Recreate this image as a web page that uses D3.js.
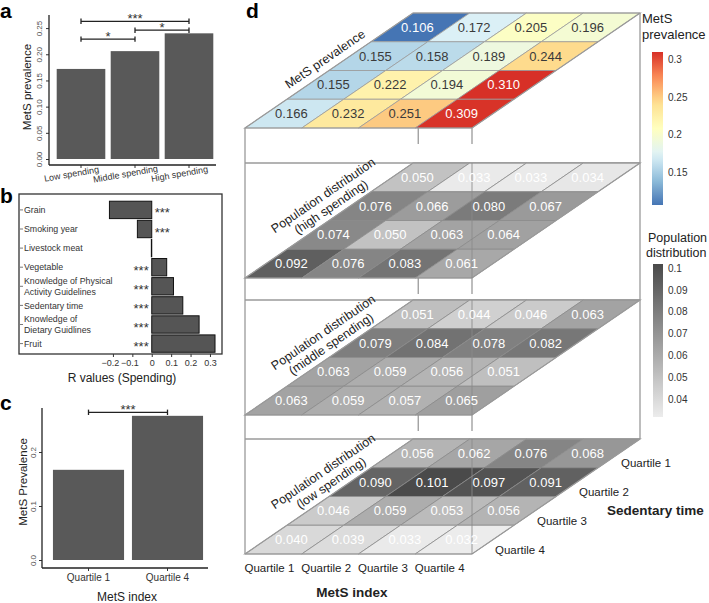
<!DOCTYPE html>
<html><head><meta charset="utf-8">
<script src="https://cdn.jsdelivr.net/npm/d3@7"></script>
<style>body{margin:0;background:#fff} text{font-family:"Liberation Sans",Arial,Helvetica,sans-serif}</style>
</head><body><svg id="c" width="709" height="603"></svg>
<script>
// ---------- DATA ----------
const spendingGroups = ["Low spending", "Middle spending", "High spending"];
const spendingPrevalence = [0.172, 0.206, 0.240];
const spendingSigPairs = [[0, 2], [0, 1], [1, 2]];
const spendingSigLabels = ["***", "*", "*"];
const spendingSigLevels = [0.263, 0.229, 0.246];

const factorNames = ["Grain", "Smoking year", "Livestock meat", "Vegetable",
  "Knowledge of Physical Activity Guidelines", "Sedentary time",
  "Knowledge of Dietary Guidlines", "Fruit"];
const factorLines = [["Grain"], ["Smoking year"], ["Livestock meat"], ["Vegetable"],
  ["Knowledge of Physical", "Activity Guidelines"], ["Sedentary time"],
  ["Knowledge of", "Dietary Guidlines"], ["Fruit"]];
const factorR = [-0.218, -0.074, -0.002, 0.077, 0.112, 0.160, 0.244, 0.326];
const factorSig = ["***", "***", "", "***", "***", "***", "***", "***"];
const factorTicks = [-0.2, -0.1, 0, 0.1, 0.2, 0.3];

const metsGroups = ["Quartile 1", "Quartile 4"];
const metsPrevalence = [0.167, 0.267];
const metsSigLabel = "***";
const metsSigLevel = 0.2735;

const quartiles = ["Quartile 1", "Quartile 2", "Quartile 3", "Quartile 4"];
// rows = sedentary time quartile 1..4, columns = MetS index quartile 1..4
const prevGrid = [
  [0.106, 0.172, 0.205, 0.196],
  [0.155, 0.158, 0.189, 0.244],
  [0.155, 0.222, 0.194, 0.310],
  [0.166, 0.232, 0.251, 0.309]];
const highGrid = [
  [0.050, 0.033, 0.033, 0.034],
  [0.076, 0.066, 0.080, 0.067],
  [0.074, 0.050, 0.063, 0.064],
  [0.092, 0.076, 0.083, 0.061]];
const midGrid = [
  [0.051, 0.044, 0.046, 0.063],
  [0.079, 0.084, 0.078, 0.082],
  [0.063, 0.059, 0.056, 0.051],
  [0.063, 0.059, 0.057, 0.065]];
const lowGrid = [
  [0.056, 0.062, 0.076, 0.068],
  [0.090, 0.101, 0.097, 0.091],
  [0.046, 0.059, 0.053, 0.056],
  [0.040, 0.039, 0.033, 0.032]];
const layerTitles = [["MetS prevalence"], ["Population distribution", "(high spending)"],
  ["Population distribution", "(middle spending)"], ["Population distribution", "(low spending)"]];
const prevLegendTicks = [0.15, 0.2, 0.25, 0.3];
const popLegendTicks = [0.04, 0.05, 0.06, 0.07, 0.08, 0.09, 0.1];

// ---------- DRAW ----------
const svg = d3.select("#c");
const ink = "#222";

function panelLetter(t, x, y) {
  svg.append("text").attr("x", x).attr("y", y).attr("font-size", 21).attr("font-weight", "bold").attr("fill", "#000").text(t);
}
function bracket(g, x1, x2, y, label) {
  g.append("line").attr("x1", x1).attr("x2", x2).attr("y1", y).attr("y2", y).attr("stroke", ink).attr("stroke-width", 1.3);
  [x1, x2].forEach(x => g.append("line").attr("x1", x).attr("x2", x).attr("y1", y - 2.7).attr("y2", y + 2.7).attr("stroke", ink).attr("stroke-width", 1.3));
  g.append("text").attr("x", (x1 + x2) / 2).attr("y", y + 2).attr("text-anchor", "middle").attr("font-size", 13).attr("fill", "#333").text(label);
}

// ===== Panel a =====
panelLetter("a", 0, 18);
const ga = svg.append("g");
const yA = d3.scaleLinear().domain([0, 0.275]).range([159, 15]);
const xA = d3.scaleBand().domain(spendingGroups).range([54, 216]).paddingInner(0.1).paddingOuter(0.05);
ga.selectAll("rect.bar").data(spendingGroups).join("rect")
  .attr("x", d => xA(d)).attr("width", xA.bandwidth())
  .attr("y", (d, i) => yA(spendingPrevalence[i])).attr("height", (d, i) => yA(0) - yA(spendingPrevalence[i]))
  .attr("fill", "#595959");
const axA = ga.append("g").attr("transform", "translate(49,0)").call(d3.axisLeft(yA).tickValues([0, 0.05, 0.1, 0.15, 0.2, 0.25]).tickFormat(d3.format(".2f")).tickSize(3).tickSizeOuter(0));
axA.select(".domain").remove();
axA.selectAll(".tick line").attr("stroke", "#333");
axA.selectAll(".tick text").attr("font-size", 8).attr("fill", "#4d4d4d").attr("text-anchor", "middle")
  .attr("x", 0).attr("dy", 0).attr("transform", "translate(-7,0) rotate(-90)");
ga.append("line").attr("x1", 49).attr("x2", 49).attr("y1", 15).attr("y2", 165).attr("stroke", ink).attr("stroke-width", 1.3);
const axAx = ga.append("g").attr("transform", "translate(0,165)").call(d3.axisBottom(xA).tickSize(3).tickSizeOuter(0));
axAx.select(".domain").remove();
ga.append("line").attr("x1", 49).attr("x2", 216).attr("y1", 165).attr("y2", 165).attr("stroke", ink).attr("stroke-width", 1.3);
axAx.selectAll(".tick line").attr("stroke", "#333");
axAx.selectAll(".tick text").attr("font-size", 9).attr("fill", "#333").attr("text-anchor", "middle")
  .attr("y", 0).attr("dy", 0).attr("transform", "translate(-9,12) rotate(-10)");
ga.append("text").attr("transform", "translate(31,87) rotate(-90)").attr("text-anchor", "middle")
  .attr("font-size", 11.5).attr("fill", "#222").text("MetS prevalence");
spendingSigPairs.forEach((p, i) => {
  bracket(ga, xA(spendingGroups[p[0]]) + xA.bandwidth() / 2, xA(spendingGroups[p[1]]) + xA.bandwidth() / 2, yA(spendingSigLevels[i]), spendingSigLabels[i]);
});

// ===== Panel b =====
panelLetter("b", 0, 203);
const gb = svg.append("g");
const xB = d3.scaleLinear().domain([-0.684, 0.362]).range([19, 222]);
const yB = d3.scaleBand().domain(factorNames).range([199.5, 354]).padding(0.09);
gb.selectAll("rect.bar").data(factorNames).join("rect")
  .attr("x", (d, i) => xB(Math.min(0, factorR[i]))).attr("width", (d, i) => Math.abs(xB(factorR[i]) - xB(0)))
  .attr("y", d => yB(d)).attr("height", yB.bandwidth())
  .attr("fill", "#555").attr("stroke", "#111").attr("stroke-width", 1);
gb.append("rect").attr("x", 19).attr("y", 194).attr("width", 203).attr("height", 160)
  .attr("fill", "none").attr("stroke", "#333").attr("stroke-width", 1.3);
factorNames.forEach((n, i) => {
  const cy = yB(n) + yB.bandwidth() / 2;
  const lines = factorLines[i];
  gb.append("line").attr("x1", 20).attr("x2", 23).attr("y1", cy).attr("y2", cy).attr("stroke", "#555").attr("stroke-width", 0.8);
  lines.forEach((l, j) => {
    gb.append("text").attr("x", 24).attr("y", cy + 3.2 + (j - (lines.length - 1) / 2) * 11)
      .attr("font-size", 8.8).attr("fill", "#333").text(l);
  });
  if (factorSig[i]) {
    const neg = factorR[i] < 0;
    gb.append("text").attr("x", neg ? xB(0) + 3 : xB(0) - 3).attr("y", cy + 7.5)
      .attr("text-anchor", neg ? "start" : "end").attr("font-size", 13).attr("fill", "#333").text(factorSig[i]);
  }
});
const axB = gb.append("g").attr("transform", "translate(0,354)").call(d3.axisBottom(xB).tickValues(factorTicks).tickFormat(d => d === 0 ? "0" : d3.format(".1f")(d)).tickSize(3));
axB.select(".domain").remove();
axB.selectAll(".tick line").attr("stroke", "#333");
axB.selectAll(".tick text").attr("font-size", 9).attr("fill", "#333").attr("y", 6).attr("dy", "0.71em")
  .attr("dx", d => d < 0 ? -3 : 0);
gb.append("text").attr("x", 122).attr("y", 382).attr("text-anchor", "middle").attr("font-size", 12).attr("fill", "#222").text("R values (Spending)");

// ===== Panel c =====
panelLetter("c", 0, 410);
const gc = svg.append("g");
const yC = d3.scaleLinear().domain([0, 0.2815]).range([560, 408]);
const xC = d3.scaleBand().domain(metsGroups).range([49, 207]).paddingInner(0.1).paddingOuter(0.05);
gc.selectAll("rect.bar").data(metsGroups).join("rect")
  .attr("x", d => xC(d)).attr("width", xC.bandwidth())
  .attr("y", (d, i) => yC(metsPrevalence[i])).attr("height", (d, i) => yC(0) - yC(metsPrevalence[i]))
  .attr("fill", "#595959");
const axC = gc.append("g").attr("transform", "translate(42,0)").call(d3.axisLeft(yC).tickValues([0, 0.1, 0.2]).tickFormat(d3.format(".1f")).tickSize(3));
axC.select(".domain").remove();
axC.selectAll(".tick line").attr("stroke", "#333");
axC.selectAll(".tick text").attr("font-size", 8).attr("fill", "#4d4d4d").attr("text-anchor", "middle")
  .attr("x", 0).attr("dy", 0).attr("transform", "translate(-6,0) rotate(-90)");
gc.append("line").attr("x1", 42).attr("x2", 42).attr("y1", 408).attr("y2", 568).attr("stroke", ink).attr("stroke-width", 1.3);
gc.append("line").attr("x1", 42).attr("x2", 208).attr("y1", 568).attr("y2", 568).attr("stroke", ink).attr("stroke-width", 1.3);
const axCx = gc.append("g").attr("transform", "translate(0,568)").call(d3.axisBottom(xC).tickSize(3).tickSizeOuter(0));
axCx.select(".domain").remove();
axCx.selectAll(".tick line").attr("stroke", "#333");
axCx.selectAll(".tick text").attr("font-size", 10).attr("fill", "#333").attr("y", 6).attr("dy", "0.71em");
gc.append("text").attr("transform", "translate(27,482) rotate(-90)").attr("text-anchor", "middle")
  .attr("font-size", 11.5).attr("fill", "#222").text("MetS Prevalence");
gc.append("text").attr("x", 127).attr("y", 601).attr("text-anchor", "middle").attr("font-size", 12).attr("fill", "#222").text("MetS index");
bracket(gc, xC(metsGroups[0]) + xC.bandwidth() / 2, xC(metsGroups[1]) + xC.bandwidth() / 2, yC(metsSigLevel), metsSigLabel);

// ===== Panel d =====
panelLetter("d", 246, 18);
const gd = svg.append("g");
const DX = 168, DY = 115;
const layerFront = [128, 278, 415, 554];
const uS = d3.scaleBand().domain(quartiles).range([245, 472]);
const dS = d3.scaleBand().domain(quartiles.slice().reverse()).range([0, 1]);
const P = (x, d, F) => [x + d * DX, F - d * DY];

const prevStops = d3.range(7).map(i => 0.106 + i * (0.310 - 0.106) / 6);
const prevColor = d3.scaleLinear().domain(prevStops)
  .range(["#4575b4", "#91bfdb", "#e0f3f8", "#ffffbf", "#fee090", "#fc8d59", "#d73027"]);
const popColor = d3.scaleLinear().domain([0.032, 0.101]).range(["#ececec", "#4a4a4a"]);

const grids = [prevGrid, highGrid, midGrid, lowGrid];
const boxStroke = "#9a9a9a";
const uEnd = uS.range()[1];
const uQ4 = uS(quartiles[3]);

// box lines
gd.append("line").attr("x1", 245).attr("x2", 245).attr("y1", layerFront[0]).attr("y2", layerFront[3]).attr("stroke", boxStroke).attr("stroke-width", 1.3);
gd.append("line").attr("x1", uEnd + DX).attr("x2", uEnd + DX).attr("y1", layerFront[0] - DY).attr("y2", layerFront[3] - DY).attr("stroke", boxStroke).attr("stroke-width", 1.3);
[1, 2, 3].forEach(L => {
  const yb = layerFront[L] - DY;
  gd.append("line").attr("x1", 245).attr("x2", uEnd + DX).attr("y1", yb).attr("y2", yb).attr("stroke", boxStroke).attr("stroke-width", 1.3);
});
[0, 1, 2].forEach(L => {
  [uQ4 + 3, uEnd].forEach(x => gd.append("line").attr("x1", x).attr("x2", x).attr("y1", layerFront[L]).attr("y2", layerFront[L] + 16).attr("stroke", boxStroke).attr("stroke-width", 1.3));
});

grids.forEach((grid, L) => {
  const F = layerFront[L];
  const g = gd.append("g");
  const color = L === 0 ? prevColor : popColor;
  quartiles.forEach((rq, r) => {
    quartiles.forEach((cq, c) => {
      const v = grid[r][c];
      const x0 = uS(cq), x1 = x0 + uS.bandwidth();
      const d0 = dS(rq), d1 = d0 + dS.bandwidth();
      const pts = [P(x0, d0, F), P(x1, d0, F), P(x1, d1, F), P(x0, d1, F)];
      g.append("polygon").attr("points", pts.map(p => p.join(",")).join(" "))
        .attr("fill", color(v)).attr("stroke", L === 0 ? "#9a9a9a" : "#8a8a8a").attr("stroke-width", 0.8);
    });
  });
  // outer edge
  const outer = [P(245, 0, F), P(uEnd, 0, F), P(uEnd, 1, F), P(245, 1, F)];
  g.append("polygon").attr("points", outer.map(p => p.join(",")).join(" "))
    .attr("fill", "none").attr("stroke", boxStroke).attr("stroke-width", 1.2);
  if (L > 0) {
    g.append("line").attr("x1", uEnd).attr("x2", uEnd).attr("y1", F - DY).attr("y2", F)
      .attr("stroke", "#8a8a8a").attr("stroke-width", 1.2).attr("opacity", 0.7);
  }
  quartiles.forEach((rq, r) => {
    quartiles.forEach((cq, c) => {
      const v = grid[r][c];
      const [cx, cy] = P(uS(cq) + uS.bandwidth() / 2, dS(rq) + dS.bandwidth() / 2, F);
      const dark = L === 0 && v > 0.12 && v < 0.28;
      g.append("text").attr("x", cx - 3).attr("y", cy + 4.6).attr("text-anchor", "middle")
        .attr("font-size", 13).attr("fill", dark ? "#3a3a3a" : "#fff").text(d3.format(".3f")(v));
    });
  });
  // layer title
  const ang = -Math.atan2(DY, DX) * 180 / Math.PI;
  const lines = layerTitles[L];
  const t = lines.length === 1 ? [325, F - 69] : [327, F - 77];
  const tg = g.append("g").attr("transform", `translate(${t[0]},${t[1]}) rotate(${ang})`);
  lines.forEach((l, j) => {
    tg.append("text").attr("x", 0).attr("y", (j - (lines.length - 1) / 2) * 14).attr("dy", "0.35em")
      .attr("text-anchor", "middle").attr("font-size", 12.5).attr("fill", "#222").text(l);
  });
});

// axis labels panel d
const Fb = layerFront[3];
quartiles.forEach(q => {
  gd.append("text").attr("x", uS(q) + uS.bandwidth() / 2 - 4).attr("y", 572).attr("text-anchor", "middle")
    .attr("font-size", 11.5).attr("fill", "#222").text(q);
  const [ex, ey] = P(uEnd, dS(q) + dS.bandwidth() / 2, Fb);
  gd.append("text").attr("x", ex + 2).attr("y", ey + 14).attr("font-size", 11.5).attr("fill", "#222").text(q);
});
gd.append("text").attr("x", 352).attr("y", 597).attr("text-anchor", "middle").attr("font-size", 13.5).attr("font-weight", "bold").attr("fill", "#222").text("MetS index");
gd.append("text").attr("x", 607).attr("y", 515).attr("font-size", 13.5).attr("font-weight", "bold").attr("fill", "#222").text("Sedentary time");

// legends
const defs = svg.append("defs");
function gradient(id, scale, dom) {
  const lg = defs.append("linearGradient").attr("id", id).attr("x1", 0).attr("x2", 0).attr("y1", 1).attr("y2", 0);
  d3.range(21).forEach(i => {
    const v = dom[0] + (dom[1] - dom[0]) * i / 20;
    lg.append("stop").attr("offset", (i / 20 * 100) + "%").attr("stop-color", scale(v));
  });
}
gradient("gPrev", prevColor, [0.106, 0.310]);
gradient("gPop", popColor, [0.032, 0.101]);
const lgPrev = d3.scaleLinear().domain([0.106, 0.310]).range([205, 52]);
const lgPop = d3.scaleLinear().domain([0.032, 0.101]).range([417, 266]);
svg.append("text").attr("x", 642).attr("y", 23).attr("font-size", 13).attr("fill", "#222").text("MetS");
svg.append("text").attr("x", 642).attr("y", 39).attr("font-size", 13).attr("fill", "#222").text("prevalence");
svg.append("rect").attr("x", 652).attr("y", 52).attr("width", 11).attr("height", 153).attr("fill", "url(#gPrev)");
prevLegendTicks.forEach(t => svg.append("text").attr("x", 668).attr("y", lgPrev(t) + 3.5).attr("font-size", 10).attr("fill", "#333").text(d3.format("")(t)));
svg.append("text").attr("x", 648).attr("y", 242).attr("font-size", 12.5).attr("fill", "#222").text("Population");
svg.append("text").attr("x", 646).attr("y", 257).attr("font-size", 12.5).attr("fill", "#222").text("distribution");
svg.append("rect").attr("x", 653).attr("y", 264).attr("width", 10).attr("height", 153).attr("fill", "url(#gPop)");
popLegendTicks.forEach(t => svg.append("text").attr("x", 668).attr("y", lgPop(t) + 3.5).attr("font-size", 10).attr("fill", "#333").text(d3.format("")(t)));
</script>
</body></html>
